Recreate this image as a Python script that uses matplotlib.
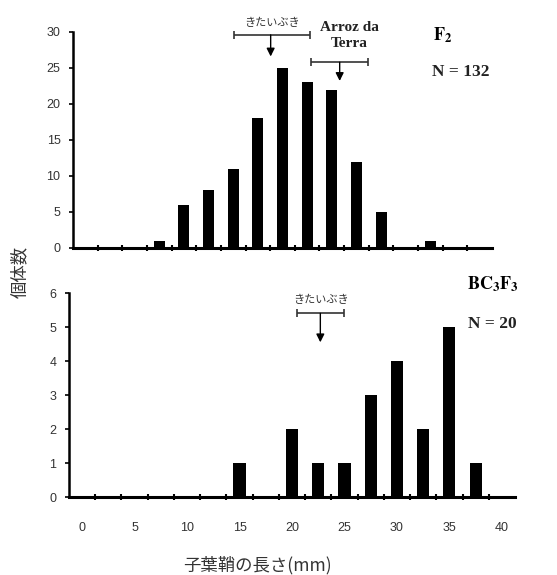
import numpy as np
import matplotlib
matplotlib.use("Agg")
import matplotlib.pyplot as plt

plt.rcParams["mathtext.fontset"] = "stix"

# ── data ────────────────────────────────────────────────────────────────────
bin_centers = [0, 2.5, 5, 7.5, 10, 12.5, 15, 17.5, 20, 22.5, 25, 27.5, 30, 32.5, 35, 37.5, 40]
f2_counts = [0, 0, 0, 1, 6, 8, 11, 18, 25, 23, 22, 12, 5, 0, 1, 0, 0]
bc3f3_counts = [0, 0, 0, 0, 0, 0, 1, 0, 2, 1, 1, 3, 4, 2, 5, 1, 0]
x_ticks = [0, 5, 10, 15, 20, 25, 30, 35, 40]

# reference cultivars: (label, low, mean, high)
f2_refs = [("きたいぶき", 15.1, 18.8, 22.8), ("Arroz da\nTerra", 22.9, 25.8, 28.7)]
bc_refs = [("きたいぶき", 20.5, 22.7, 25.0)]

CJK = ["Noto Sans CJK JP", "DejaVu Sans"]
SERIF = "Liberation Serif"
TICKFONT = "Liberation Sans"

fig = plt.figure(figsize=(5.57, 5.75), dpi=100)
ax1 = fig.add_axes([73 / 557, 1 - 248 / 575, 419 / 557, 216 / 575])
ax2 = fig.add_axes([69 / 557, 1 - 497 / 575, 446 / 557, 204 / 575])

boundaries = np.arange(1.25, 41, 2.5)


def style(ax, ymax, ystep, xlabels):
    ax.set_xlim(-1.25, 41.25)
    ax.set_ylim(0, ymax)
    for s in ["top", "right"]:
        ax.spines[s].set_visible(False)
    ax.spines["left"].set_linewidth(1.8)
    ax.spines["bottom"].set_linewidth(2.2)
    ax.set_yticks(np.arange(0, ymax + 0.1, ystep))
    ax.set_xticks(boundaries, minor=True)
    ax.tick_params(axis="x", which="minor", direction="inout", length=4, width=1.5)
    ax.tick_params(axis="y", direction="out", length=3, width=1.2, labelsize=9,
                   labelcolor="#333333", pad=6)
    if xlabels:
        ax.set_xticks(x_ticks)
        ax.tick_params(axis="x", which="major", length=0, pad=18, labelsize=9,
                       labelcolor="#333333")
    else:
        ax.set_xticks([])
    for lb in ax.get_xticklabels() + ax.get_yticklabels():
        lb.set_fontfamily(TICKFONT)


def ref_marker(ax, label, lo, mid, hi, y, tip, ty, fs=8, serif=False):
    ax.errorbar([mid], [y], xerr=[[mid - lo], [hi - mid]], fmt="none",
                ecolor="#333333", elinewidth=1.2, capsize=3, capthick=1.2, clip_on=False)
    ax.annotate("", xy=(mid, tip), xytext=(mid, y),
                arrowprops=dict(arrowstyle="-|>", color="black", lw=1.0,
                                mutation_scale=12, shrinkA=0, shrinkB=0),
                annotation_clip=False)
    if serif:
        ax.text(lo + 3.9, ty, label, ha="center", va="center", fontsize=11,
                family=SERIF, fontweight="bold", color="#222222", linespacing=1.35)
    else:
        ax.text((lo + hi) / 2, ty, label, ha="center", va="center", fontsize=fs,
                family=CJK, color="#333333", clip_on=False)


# ── top panel: F2 ───────────────────────────────────────────────────────────
ax1.bar(bin_centers, f2_counts, width=1.1, color="black")
style(ax1, 30, 5, False)
lab, lo, mid, hi = f2_refs[0]
ref_marker(ax1, lab, lo, mid, hi, 29.6, 26.6, 31.2)
lab, lo, mid, hi = f2_refs[1]
ref_marker(ax1, lab, lo, mid, hi, 25.8, 23.2, 29.5, serif=True)
ax1.text(35.3, 29.6, r"$\mathbf{F_2}$", fontsize=13, ha="left", va="center")
ax1.text(35.2, 24.5, "N = 132", fontsize=12.5, family=SERIF, fontweight="bold",
         ha="left", va="center", color="#222222")

# ── bottom panel: BC3F3 ─────────────────────────────────────────────────────
ax2.bar(bin_centers, bc3f3_counts, width=1.15, color="black")
style(ax2, 6, 1, True)
lab, lo, mid, hi = bc_refs[0]
ref_marker(ax2, lab, lo, mid, hi, 5.4, 4.55, 5.8)
ax2.text(36.7, 6.25, r"$\mathbf{BC_3F_3}$", fontsize=13, ha="left", va="center",
         clip_on=False)
ax2.text(36.8, 5.1, "N = 20", fontsize=12.5, family=SERIF, fontweight="bold",
         ha="left", va="center", color="#222222", clip_on=False)

fig.text(20 / 557, 1 - 272 / 575, "個体数", rotation=90, ha="center", va="center",
         fontsize=12.5, family=CJK, color="#333333")
fig.text(257 / 557, 1 - 565 / 575, "子葉鞘の長さ(mm)", ha="center", va="center",
         fontsize=12.5, family=CJK, color="#333333")

fig.savefig("out.png", dpi=100)
